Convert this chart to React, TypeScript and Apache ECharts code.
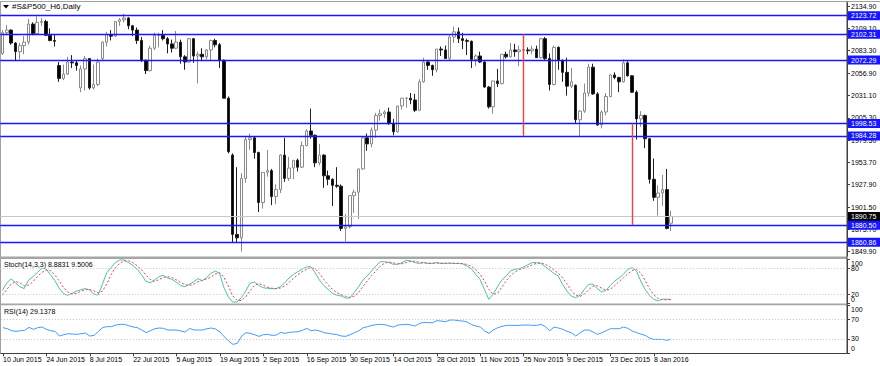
import React, { useEffect, useRef } from 'react';
import * as echarts from 'echarts';

const FONT = 'Liberation Sans, Arial, sans-serif';
const MONTHS = ['Jan', 'Feb', 'Mar', 'Apr', 'May', 'Jun', 'Jul', 'Aug', 'Sep', 'Oct', 'Nov', 'Dec'];
const closedDays = ['2015-12-25', '2016-01-01'];
const barCount = 155;
const slotCount = 195;

// Daily OHLC of #S&P500_H6
const open = [2080,2104,2107,2092,2082,2089,2093,2114,2103,2116,2117,2101,2095,2066,2051,2056,2070,2069,2040,2062,2074,2040,2044,2074,2093,2102,2100,2117,2119,2121,2112,2107,2095,2072,2060,2086,2101,2101,2097,2091,2086,2093,2076,2070,2097,2077,2079,2076,2084,2095,2090,2072,2028,1962,1870,1866,1935,1980,1982,1965,1907,1942,1944,1914,1922,1962,1935,1947,1956,1948,1973,1990,1985,1953,1962,1938,1934,1927,1926,1877,1879,1915,1919,1946,1982,1975,1991,2008,2010,2012,1999,1989,2019,2028,2028,2026,2014,2047,2070,2066,2061,2085,2084,2074,2099,2105,2097,2095,2094,2073,2077,2070,2041,2018,2048,2045,2079,2076,2084,2082,2083.5,2084,2083,2085,2075,2097,2074,2044,2087,2072,2058,2042,2043,2003,2013,2034,2064,2033,1997,2012,2030,2055,2052,2047,2069,2054,2035,2004,2008,1981,1934,1913,1918,1922,1883];
const high = [2107,2113,2108,2093,2092,2100,2120,2116,2123,2121,2119,2109,2102,2070,2067,2076,2078,2072,2066,2077,2074,2067,2074,2094,2105,2107,2117,2121,2126,2122,2113,2110,2099,2073,2089,2104,2104,2107,2099,2096,2106,2096,2078,2098,2098,2082,2086,2085,2096,2097,2092,2073,2030,1964,1948,1941,1983,1987,1984,1966,1942,1968,1946,1928,1963,1982,1960,1956,1958,1978,1992,2016,1986,1975,1963,1944,1935,1948,1928,1894,1915,1922,1946,1984,1987,1994,2011,2015,2014,2017,2004,2019,2028,2029,2034,2033,2050,2075,2071,2067,2085,2088,2089,2101,2111,2110,2104,2097,2095,2079,2082,2071,2042,2048,2062,2079,2082,2092,2091,2089,2088,2087,2089,2089,2098,2099,2080,2089,2088,2073,2075,2063,2044,2014,2045,2068,2068,2035,2014,2034,2056,2058,2053,2073,2071,2055,2037,2013,2009,1982,1958,1927,1939,1946,1897.5];
const low = [2078,2101,2090,2071,2073,2079,2090,2101,2102,2112,2100,2094,2088,2047,2049,2055,2063,2060,2035,2037,2038,2038,2042,2072,2088,2095,2099,2112,2116,2108,2100,2091,2070,2056,2059,2084,2087,2095,2080,2081,2085,2068,2061,2069,2069,2045,2071,2073,2072,2087,2063,2028,1964,1861,1860,1850,1930,1968,1958,1896,1900,1937,1904,1905,1918,1931,1932,1934,1943,1947,1972,1981,1948,1950,1924,1927,1903,1924,1874,1862,1877,1895,1888,1945,1967,1971,1982,2002,2005,1997,1985,1988,2015,2017,2021,2012,2013,2046,2061,2054,2058,2077,2074,2072,2092,2092,2085,2078,2063,2065,2069,2040,2016,2010,2041,2044,2074,2075,2076,2065,2081,2079,2079,2075,2074,2072,2037,2043,2061,2047,2031,2040,1999,1984,2011,2030,2032,1996,1993,2008,2029,2050,2035,2046,2053,2034,1980,1995,1970,1929,1909,1892,1903,1876,1874];
const close = [2104,2107,2092,2082,2089,2093,2114,2103,2116,2117,2101,2095,2094,2051,2056,2070,2069,2066,2062,2074,2040,2044,2070,2093,2102,2100,2117,2119,2121,2112,2107,2095,2072,2060,2086,2101,2101,2097,2091,2086,2093,2076,2070,2097,2077,2079,2076,2084,2095,2090,2072,2028,1966,1870,1866,1935,1980,1982,1965,1907,1942,1944,1914,1922,1962,1935,1947,1956,1948,1973,1990,1985,1953,1962,1938,1934,1927,1926,1877,1879,1915,1919,1946,1982,1975,1991,2008,2010,2012,1999,1989,2019,2028,2028,2026,2014,2047,2070,2066,2061,2085,2084,2074,2099,2105,2097,2095,2094,2073,2077,2070,2041,2018,2048,2045,2079,2076,2084,2082,2084,2084.5,2083,2085,2075,2097,2074,2044,2087,2072,2058,2042,2047,2003,2013,2034,2064,2033,1997,2012,2030,2055,2052,2047,2069,2054,2035,2004,2008,1981,1934,1913,1918,1922,1877,1890.75];

// Stoch(14,3,3) main and signal, RSI(14)
const stochMain = [30,47,56,47,38,34,53,61,70,80,79,66,53,36,23,18.5,23,28,31,34,31,22,19,43.5,70,81.5,93,99,99,93,87,78,66,51,47,53,61,64,58,
  55,49,41,38,43.5,49,56.5,52,58.7,68.5,74,68.5,36,15.5,3.4,3.4,13,28,45.8,48.9,41,36,34.5,33.7,33.7,38,47,58,66,72.3,77.6,83,83.7,70,53,41,32,23,19,
  17,12.5,12.5,24.6,38,53,62.5,74,85,95,95,93,89,89,93,98,97,93,91,93,91,91,93,91,91,92,91,91,90,85,79,66,55,32,9.5,21,38,53,62.5,
  74,77.6,79,83,88,93,93,91,83.7,76,68.5,62.5,43.5,28,17,13,18.5,32,43.5,44,33.7,26,30,41,51,58,66,77.6,81.5,74,51,32,18.5,9.5,6,10,9.6,8.8831];
const stochSignal = [19,32,44,50,47,40,42,49,61,70,76,75,66,52,37,26,21.5,23,27.5,31,32,29,24,28,44,65,81.5,91,97,97,93,86,77,65,55,50,54,59,61,
  59,54,48,43,41,43.5,49.5,52.5,55.7,59.7,67,70.3,59.5,40,18.3,7.4,6.6,14.8,28.9,40.9,45.2,42,37.2,34.7,34,35.1,39.6,47.7,57,65.4,72,77.6,81.4,78.9,68.9,54.7,42,32,24.7,
  19.7,16.2,14,16.5,25,38.5,51.2,63.2,73.8,84.7,91.7,94.3,92.3,90.3,90.3,93.3,96,96,93.7,92.3,91.7,91.7,91.7,91.7,91.7,91.3,91.3,91.3,90.7,88.7,84.7,76.7,66.7,51,32.2,20.8,22.8,37.3,51.2,
  63.2,71.4,76.9,79.9,83.3,88,91.3,92.3,89.2,83.6,76.1,69,58.2,44.7,29.5,19.3,16.2,21.2,31.3,39.8,40.4,34.6,29.9,32.3,40.7,50,58.3,67.2,75,77.7,68.8,52.3,33.8,20,11.3,8.5,8.5,9.5006];
const rsi = [52.8,50.7,46.6,45.2,46.6,47.3,53.5,49.4,52.8,54.2,49.4,46.6,45.2,35.6,38.4,40.4,39.7,39,40.4,41.8,35.6,37,45.2,53.5,54.9,54.9,58.3,59.7,59.7,56.9,54.2,52.8,48,42.5,46.6,50.7,52.1,51.4,48,
  48,48,45.9,43.9,51.4,48,48,48,50.7,52.1,50,43.9,34.2,25.3,18.4,20.5,35.6,42.5,41.1,38.4,34.9,38.4,39,37,37.7,43.2,41.1,43.2,43.9,44.5,47.3,51.4,46.6,48,45.9,42.5,41.1,39.7,38.4,
  35.6,34.9,38.4,42.5,46.6,52.8,54.9,57.6,59,59.7,59,56.2,54.2,58.3,59,59.7,58.3,56.2,61.7,63.8,63.1,63.1,67.2,66.5,65.2,68.6,68.6,67.2,66.5,64.5,59,56.2,54.2,45.9,41.1,48,52.8,55.5,57.6,
  57.6,57.6,57.6,58.3,58.3,57.6,57.6,59.7,54.9,46.6,54.2,52.1,49.4,45.2,42.5,35.6,42.5,48,48,43.9,39,42.5,46.6,50.7,50.7,50.7,54.2,51.4,45.9,42.5,39.7,37,31.5,28.7,28.7,28.7,26.7,29.1378];

const priceTicks = [2134.9, 2109.1, 2083.3, 2056.9, 2031.1, 2005.3, 1979.5, 1953.7, 1927.9, 1901.5, 1875.7, 1849.9];
const stochTicks = [0, 20, 80, 100];
const stochBounds = [0, 100];
const stochLevels = [20, 80];
const rsiTicks = [0, 30, 70, 100];
const rsiLevels = [30, 70];
const supportResistance = [2123.72, 2102.31, 2072.29, 1998.53, 1984.28, 1880.5, 1860.86];
const lastPrice = 1890.75;
const trendLines = [
  { index: 120, from: 2102.31, to: 1984.28 },
  { index: 145, from: 1998.53, to: 1880.5 },
];

function buildDates(): string[] {
  const out: string[] = [];
  const d = new Date(Date.UTC(2015, 5, 10));
  while (out.length < barCount) {
    const wd = d.getUTCDay();
    const iso = d.toISOString().slice(0, 10);
    if (wd !== 0 && wd !== 6 && !closedDays.includes(iso)) {
      out.push(`${d.getUTCDate()} ${MONTHS[d.getUTCMonth()]} ${d.getUTCFullYear()}`);
    }
    d.setUTCDate(d.getUTCDate() + 1);
  }
  return out;
}

// The terminal draws the end labels (0 and 100) a few pixels inside the panel.
function insetLabels(ticks: number[], inset: number) {
  return ticks.map((t) => (t === 0 ? t + inset : t === 100 ? t - inset : t));
}
function insetFormatter(inset: number) {
  return (v: number) => {
    if (Math.abs(v - inset) < 1e-6) return '0';
    if (Math.abs(v - (100 - inset)) < 1e-6) return '100';
    return String(Math.round(v));
  };
}

function buildOption(): any {
  const dates = buildDates();
  const categories = dates.concat(Array.from({ length: slotCount - dates.length }, (_, i) => `+${i + 1}`));
  const tickInterval = (i: number) => i % 10 === 0 && i < dates.length;
  const candles = open.map((o, i) => [o, close[i], low[i], high[i]]);

  const AXIS = '#404040';
  const BLUE = '#1616ff';
  const stochInset = 9;
  const rsiInset = 9.5;
  const labelBase = { fontSize: 7, color: '#000', margin: 4, fontFamily: FONT };

  const xAxis = [0, 1, 2].map((g) => ({
    type: 'category',
    gridIndex: g,
    data: categories,
    boundaryGap: true,
    axisLine: { show: g === 2, lineStyle: { color: AXIS, width: 1 } },
    axisTick: { show: g === 2, alignWithLabel: true, interval: tickInterval, length: 3, lineStyle: { color: AXIS } },
    axisLabel: { show: g === 2, interval: tickInterval, align: 'left', fontSize: 7, color: '#000', margin: 3, fontFamily: FONT },
    splitLine: { show: false },
  }));

  const yBase = {
    type: 'value',
    position: 'right',
    axisLine: { show: true, lineStyle: { color: AXIS, width: 1 } },
    splitLine: { show: false },
  };

  const levelLine = (v: number) => ({
    yAxis: v,
    lineStyle: { color: BLUE, width: 1.3, type: 'solid' },
    label: {
      show: true, position: 'end', distance: 1, formatter: () => v.toFixed(2),
      backgroundColor: BLUE, color: '#fff', fontSize: 7, fontFamily: FONT, padding: [1, 4, 1, 3],
    },
  });

  const option: any = {
    animation: false,
    backgroundColor: '#fff',
    textStyle: { fontFamily: FONT },
    grid: [
      { left: 0.3, right: 33, top: 3, height: 253 },
      { left: 0.3, right: 33, top: 259.5, height: 44 },
      { left: 0.3, right: 33, top: 304.8, height: 48.5 },
    ],
    xAxis,
    yAxis: [
      {
        ...yBase, gridIndex: 0, min: 1844.97, max: 2138.45,
        axisTick: { show: true, length: 3, customValues: priceTicks, lineStyle: { color: AXIS } },
        axisLabel: { ...labelBase, customValues: priceTicks, formatter: (v: number) => v.toFixed(2) },
      },
      {
        ...yBase, gridIndex: 1, min: 0, max: 100,
        axisTick: { show: true, length: 3, customValues: stochTicks, lineStyle: { color: AXIS } },
        axisLabel: {
          ...labelBase, customValues: insetLabels(stochBounds, stochInset), formatter: insetFormatter(stochInset),
          showMinLabel: true, showMaxLabel: true,
        },
      },
      {
        ...yBase, gridIndex: 2, min: 0, max: 100,
        axisTick: { show: true, length: 3, customValues: rsiTicks, lineStyle: { color: AXIS } },
        axisLabel: {
          ...labelBase, customValues: insetLabels(rsiTicks, rsiInset), formatter: insetFormatter(rsiInset),
          showMinLabel: true, showMaxLabel: true,
        },
      },
      {
        // second label layer of the stochastic panel: the 20 / 80 levels overlap the 0 / 100 labels
        type: 'value', position: 'right', gridIndex: 1, min: 0, max: 100,
        axisLine: { show: false }, axisTick: { show: false }, splitLine: { show: false },
        axisLabel: { ...labelBase, customValues: stochLevels, formatter: (v: number) => String(v) },
      },
    ],
    series: [
      {
        type: 'candlestick',
        xAxisIndex: 0,
        yAxisIndex: 0,
        data: candles,
        barWidth: 3,
        itemStyle: { color: '#ffffff', color0: '#000000', borderColor: '#8a8a8a', borderColor0: '#202020', borderWidth: 1 },
        emphasis: { disabled: true },
        markLine: {
          silent: true,
          symbol: ['none', 'none'],
          animation: false,
          data: [
            {
              yAxis: lastPrice,
              lineStyle: { color: '#c8c8c8', width: 1, type: 'solid' },
              label: {
                show: true, position: 'end', distance: 1, formatter: () => lastPrice.toFixed(2),
                backgroundColor: '#000', color: '#fff', fontSize: 7, fontFamily: FONT, padding: [1, 4, 1, 3],
              },
            },
            ...supportResistance.map(levelLine),
            ...trendLines.map((t) => [
              { coord: [categories[t.index], t.from], lineStyle: { color: '#ff3c3c', width: 1.4, type: 'solid' }, label: { show: false } },
              { coord: [categories[t.index], t.to] },
            ]),
          ],
        },
      },
      {
        type: 'line', xAxisIndex: 1, yAxisIndex: 1, data: stochMain, symbol: 'none',
        lineStyle: { color: '#45c4b4', width: 1 }, emphasis: { disabled: true },
        markLine: {
          silent: true, symbol: ['none', 'none'], label: { show: false },
          lineStyle: { color: '#c4c4c4', type: [1, 2], width: 1 },
          data: stochLevels.map((v) => ({ yAxis: v })),
        },
      },
      {
        type: 'line', xAxisIndex: 1, yAxisIndex: 1, data: stochSignal, symbol: 'none',
        lineStyle: { color: '#ff3d3d', width: 1, type: [2, 2] }, emphasis: { disabled: true },
      },
      {
        type: 'line', xAxisIndex: 2, yAxisIndex: 2, data: rsi, symbol: 'none',
        lineStyle: { color: '#3f9bff', width: 1 }, emphasis: { disabled: true },
        markLine: {
          silent: true, symbol: ['none', 'none'], label: { show: false },
          lineStyle: { color: '#c4c4c4', type: [1, 2], width: 1 },
          data: rsiLevels.map((v) => ({ yAxis: v })),
        },
      },
    ],
    graphic: [
      { type: 'line', shape: { x1: 0, y1: 1.5, x2: 880, y2: 1.5 }, style: { stroke: '#a0a0a0', lineWidth: 1 }, silent: true },
      { type: 'line', shape: { x1: 0.5, y1: 1.5, x2: 0.5, y2: 353.5 }, style: { stroke: '#a0a0a0', lineWidth: 1 }, silent: true },
      { type: 'rect', shape: { x: 0, y: 256.6, width: 847, height: 2.4 }, style: { fill: '#a6a6a6' }, silent: true },
      { type: 'rect', shape: { x: 0, y: 303.6, width: 847, height: 1.6 }, style: { fill: '#a6a6a6' }, silent: true },
      { type: 'line', shape: { x1: 847, y1: 1.5, x2: 847, y2: 353.5 }, style: { stroke: AXIS, lineWidth: 1 }, silent: true },
      { type: 'polygon', shape: { points: [[3, 5], [9, 5], [6, 8.5]] }, style: { fill: '#000' }, silent: true },
      { type: 'text', x: 12, y: 6.5, style: { text: '#S&P500_H6,Daily', fontSize: 8, fill: '#000', fontFamily: FONT, verticalAlign: 'middle' }, silent: true },
      { type: 'text', x: 4, y: 264, style: { text: `Stoch(14,3,3) ${stochMain[barCount - 1].toFixed(4)} ${stochSignal[barCount - 1].toFixed(4)}`, fontSize: 7, fill: '#000', fontFamily: FONT, verticalAlign: 'middle' }, silent: true },
      { type: 'text', x: 4, y: 311.5, style: { text: `RSI(14) ${rsi[barCount - 1].toFixed(4)}`, fontSize: 7, fill: '#000', fontFamily: FONT, verticalAlign: 'middle' }, silent: true },
    ],
  };
  return option;
}

export default function App() {
  const ref = useRef<HTMLDivElement>(null);
  useEffect(() => {
    document.body.style.margin = '0';
    const chart = echarts.init(ref.current as HTMLDivElement, null, { renderer: 'svg' });
    chart.setOption(buildOption());
    return () => chart.dispose();
  }, []);
  return <div ref={ref} style={{ width: 880, height: 366 }} />;
}
